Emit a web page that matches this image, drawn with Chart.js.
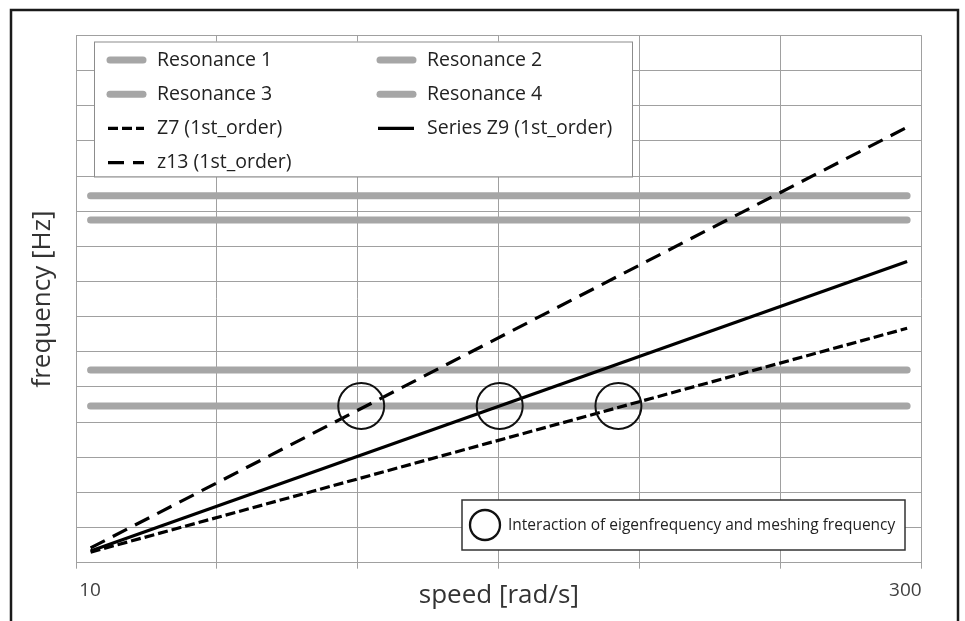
<!DOCTYPE html>
<html>
<head>
<meta charset="utf-8">
<title>frequency vs speed</title>
<script src="https://cdn.jsdelivr.net/npm/chart.js@4.4.1/dist/chart.umd.min.js"></script>
<style>
  html, body { margin: 0; padding: 0; background: #fff; }
  #wrap { position: relative; width: 965px; height: 621px; }
</style>
</head>
<body>
<div id="wrap"><canvas id="chart" width="965" height="621"></canvas></div>
<script>
// ---------------- DATA ----------------

const speedPoints = [15, 295];
const resonanceLabels = ["Resonance 1", "Resonance 2", "Resonance 3", "Resonance 4"];
const resonanceFreq = [4.46, 5.48, 9.75, 10.44];

const orderLabels = ["Z7 (1st_order)", "Series Z9 (1st_order)", "z13 (1st_order)"];
const z7Freq = [0.30, 6.67];
const z9Freq = [0.33, 8.57];
const z13Freq = [0.42, 12.39];

// circled crossings of the meshing lines with resonance 1
const interactionSpeed = [107.8, 155.3, 196.0];
const interactionFreq = [4.46, 4.46, 4.46];
const noteText = "Interaction of eigenfrequency and meshing frequency";

const xRange = [10, 300];
const xTickLabels = ["10", "300"];
const xGridCount = 6;
const yRange = [0, 15];

const FONT = "'Open Sans', 'Noto Sans', sans-serif";

function pairUp(xs, ys) {
  return xs.map((x, i) => ({ x: x, y: ys[i] }));
}

// ---------------- DATASETS ----------------

let datasets = [];

resonanceLabels.forEach((label, i) => {
  datasets.push({
    label: label,
    data: pairUp(speedPoints, [resonanceFreq[i], resonanceFreq[i]]),
    borderColor: "#a6a6a6",
    borderWidth: 7,
    borderCapStyle: "round",
    pointRadius: 0,
    order: 3
  });
});

const orderSeries = [z7Freq, z9Freq, z13Freq];
const orderDash = [[10, 4], [], [16, 9]];

orderLabels.forEach((label, i) => {
  datasets.push({
    label: label,
    data: pairUp(speedPoints, orderSeries[i]),
    borderColor: "#000",
    borderWidth: 3.2,
    borderDash: orderDash[i],
    pointRadius: 0,
    order: 1
  });
});

datasets.push({
  label: "interaction",
  data: pairUp(interactionSpeed, interactionFreq),
  showLine: false,
  pointRadius: 23,
  pointHoverRadius: 23,
  pointBorderWidth: 2,
  pointBorderColor: "#111",
  pointBackgroundColor: "rgba(0,0,0,0)",
  order: 0,
  inLegend: false
});

// ---------------- PLUGINS ----------------

// white page + frame round the figure (no bottom edge)
const framePlugin = {
  id: "frame",
  beforeDraw(chart) {
    let ctx = chart.ctx;
    ctx.save();
    ctx.fillStyle = "#fff";
    ctx.fillRect(0, 0, chart.width, chart.height);
    ctx.restore();
  },
  afterDraw(chart) {
    let ctx = chart.ctx;
    ctx.save();
    ctx.strokeStyle = "#1a1a1a";
    ctx.lineWidth = 2.5;
    ctx.beginPath();
    ctx.moveTo(11, chart.height + 5);
    ctx.lineTo(11, 10);
    ctx.lineTo(958, 10);
    ctx.lineTo(958, chart.height + 5);
    ctx.stroke();
    ctx.restore();
  }
};

// two column legend inside the plot, like the spreadsheet one
const boxLegendPlugin = {
  id: "boxLegend",
  afterDraw(chart) {
    let ctx = chart.ctx;
    let box = { x: 94, y: 41.5, w: 538, h: 135 };
    ctx.save();
    ctx.fillStyle = "#fff";
    ctx.fillRect(box.x, box.y, box.w, box.h);
    ctx.strokeStyle = "#8c8c8c";
    ctx.lineWidth = 1;
    ctx.strokeRect(box.x + 0.5, box.y + 0.5, box.w, box.h);

    let items = chart.data.datasets.filter(d => d.inLegend !== false);
    items.forEach((d, i) => {
      let col = i % 2;
      let row = Math.floor(i / 2);
      let x0 = 108 + col * 270;
      let yc = 60 + row * 34.2;

      ctx.strokeStyle = d.borderColor;
      ctx.lineWidth = d.borderWidth;
      ctx.setLineDash(d.borderDash || []);
      ctx.lineCap = d.borderCapStyle === "round" ? "round" : "butt";
      ctx.beginPath();
      if (ctx.lineCap === "round") {
        ctx.moveTo(x0 + 2, yc);
        ctx.lineTo(x0 + 35, yc);
      } else {
        ctx.moveTo(x0, yc);
        ctx.lineTo(x0 + 36, yc);
      }
      ctx.stroke();
      ctx.setLineDash([]);

      ctx.fillStyle = "#222";
      ctx.font = "19.5px " + FONT;
      ctx.textBaseline = "middle";
      ctx.textAlign = "left";
      ctx.fillText(d.label, x0 + 49, yc);
    });
    ctx.restore();
  }
};

// note box explaining the circles
const noteBoxPlugin = {
  id: "noteBox",
  afterDraw(chart) {
    let ctx = chart.ctx;
    ctx.save();
    ctx.fillStyle = "#fff";
    ctx.fillRect(462, 500, 443, 50);
    ctx.strokeStyle = "#333";
    ctx.lineWidth = 1.5;
    ctx.strokeRect(462, 500, 443, 50);

    ctx.lineWidth = 2.3;
    ctx.strokeStyle = "#111";
    ctx.beginPath();
    ctx.arc(485, 525, 15, 0, Math.PI * 2);
    ctx.stroke();

    ctx.fillStyle = "#222";
    ctx.font = "15.5px " + FONT;
    ctx.textBaseline = "middle";
    ctx.fillText(noteText, 508, 526);
    ctx.restore();
  }
};

// ---------------- CHART ----------------

let ctx = document.getElementById("chart").getContext("2d");

let chartInstance = new Chart(ctx, {
  type: "line",
  data: { datasets: datasets },
  options: {
    responsive: false,
    animation: false,
    devicePixelRatio: 1,
    layout: { padding: { left: 0, top: 35.5, right: 43.3, bottom: 0 } },
    plugins: {
      legend: { display: false },
      tooltip: { enabled: false }
    },
    scales: {
      x: {
        type: "linear",
        min: xRange[0],
        max: xRange[1],
        afterBuildTicks(scale) {
          let step = (xRange[1] - xRange[0]) / xGridCount;
          let ticks = [];
          for (let i = 0; i <= xGridCount; i++) ticks.push({ value: xRange[0] + i * step });
          scale.ticks = ticks;
        },
        afterFit(scale) { scale.height = 58.3; },
        grid: { color: "#a0a0a0", lineWidth: 1, tickLength: 6 },
        border: { color: "#a0a0a0" },
        ticks: {
          autoSkip: false,
          maxRotation: 0,
          align: "inner",
          padding: 10,
          color: "#404040",
          font: { family: FONT, size: 19 },
          callback: (value, index, ticks) => {
            if (index === 0) return "\u2009" + xTickLabels[0];
            if (index === ticks.length - 1) return xTickLabels[1];
            return "";
          }
        },
        title: {
          display: true,
          text: "speed [rad/s]",
          color: "#333",
          font: { family: FONT, size: 26 },
          padding: { top: 0, bottom: 10 }
        }
      },
      y: {
        min: yRange[0],
        max: yRange[1],
        afterFit(scale) { scale.width = 76; },
        grid: { color: "#a0a0a0", lineWidth: 1, drawTicks: false },
        border: { color: "#a0a0a0" },
        ticks: { display: false, stepSize: 1 },
        title: {
          display: true,
          text: "frequency [Hz]",
          color: "#333",
          font: { family: FONT, size: 26 },
          padding: { top: 27, bottom: 0 }
        }
      }
    }
  },
  plugins: [framePlugin, boxLegendPlugin, noteBoxPlugin]
});
</script>
</body>
</html>
